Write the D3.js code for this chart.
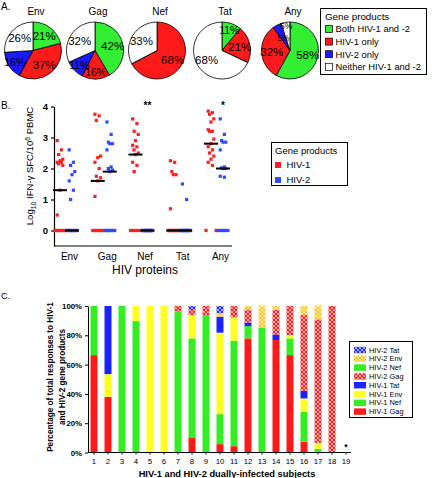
<!DOCTYPE html>
<html><head><meta charset="utf-8">
<script src="https://cdn.jsdelivr.net/npm/d3@7"></script>
<style>body{margin:0;background:#fff}svg{display:block;font-family:"Liberation Sans",Arial,sans-serif}svg text{font-family:"Liberation Sans",Arial,sans-serif}</style>
</head><body><svg id="c" width="432" height="478"></svg>
<script>
// ---------- Panel A data ----------
const pieProteins = ["Env","Gag","Nef","Tat","Any"];
const pieCategories = ["Both HIV-1 and -2","HIV-1 only","HIV-2 only","Neither HIV-1 and -2"];
const pieBoth     = [21,42,0,11,58];
const pieHiv1Only = [37,16,68,21,32];
const pieHiv2Only = [16,11,0,0,5];
const pieNeither  = [26,32,33,68,5];

// ---------- Panel B data ----------
const bGroups = ["Env","Gag","Nef","Tat","Any"];
const bSeries = ["HIV-1","HIV-2"];
const bTicks = [0,1,2,3,4];
const hiv1Env = [2.9,2.6,2.45,2.3,2.25,2.2,2.2,2.15,2.1,1.3,0.5,0,0,0,0,0,0,0,0];
const hiv2Env = [2.6,2.2,2.1,1.9,1.8,1.6,1.3,1.0,0,0,0,0,0,0,0,0,0,0,0];
const hiv1Gag = [3.75,3.7,3.55,2.4,2.35,2.2,2.0,1.75,1.7,1.6,1.1,0,0,0,0,0,0,0,0];
const hiv2Gag = [3.5,3.1,2.85,2.8,2.8,2.6,2.05,2.0,1.95,1.9,0,0,0,0,0,0,0,0,0];
const hiv1Nef = [3.6,3.45,3.2,3.1,2.9,2.75,2.7,2.6,2.5,2.45,2.2,2.1,1.9,0,0,0,0,0,0];
const hiv2Nef = [0,0,0,0,0,0,0,0,0,0,0,0,0,0,0,0,0,0,0];
const hiv1Tat = [2.25,2.2,1.9,1.8,1.8,0.7,0,0,0,0,0,0,0,0,0,0,0,0,0];
const hiv2Tat = [1.5,1.0,0,0,0,0,0,0,0,0,0,0,0,0,0,0,0,0,0];
const hiv1Any = [3.85,3.8,3.75,3.6,3.5,3.25,3.2,3.2,2.95,2.8,2.7,2.6,2.5,2.4,2.3,2.2,2.1,0,0];
const hiv2Any = [3.6,3.1,2.9,2.85,2.85,2.6,2.05,2.02,2.0,2.0,1.75,1.72,0,0,0,0,0,0,0];
const bStars = ["","","**","","*"];

// ---------- Panel C data ----------
const subjects = ["1","2","3","4","5","6","7","8","9","10","11","12","13","14","15","16","17","18","19"];
const cKeys = ["HIV-1 Gag","HIV-1 Nef","HIV-1 Env","HIV-1 Tat","HIV-2 Gag","HIV-2 Nef","HIV-2 Env","HIV-2 Tat"];
const cHiv1Gag = [66.5,38,0,0,0,0,0,10.3,0,5.7,4.3,77.9,0,76.8,66.5,7.3,0.5,0,0];
const cHiv1Nef = [33.5,0,100,89.7,0,0,96.1,67.6,93.8,20.5,72,8.4,85.4,0,11.4,20.5,2,0,0];
const cHiv1Env = [0,15.5,0,10.3,100,100,0,15.9,0,55.6,16,0,0,0,2.3,9.1,4.1,0,0];
const cHiv1Tat = [0,46.5,0,0,0,0,0,0,0,10.9,0,2.5,0,3.8,0,5.2,0,0,0];
const cHiv2Gag = [0,0,0,0,0,0,3.9,3.5,6.2,0,7.7,8.5,0,16.7,19.8,51.7,84.3,100,0];
const cHiv2Nef = [0,0,0,0,0,0,0,0,0,0,0,0,0,0,0,0,0,0,0];
const cHiv2Env = [0,0,0,0,0,0,0,0,0,2.3,0,2.7,14.6,2.7,0,6.2,9.1,0,0];
const cHiv2Tat = [0,0,0,0,0,0,0,2.7,0,5,0,0,0,0,0,0,0,0,0];
const cTicks = [0,20,40,60,80,100];
const cStarSubject = "19";

const FF = "Liberation Sans, Arial, sans-serif";
const svg = d3.select("#c");
const RED="#ff1a1a", GREEN="#33ee22", BLUE="#1a22ff", YELLOW="#ffff22", ORANGE="#ffc41a";

// patterns
const defs = svg.append("defs");
function hatch(id, color){
  const p = defs.append("pattern").attr("id",id).attr("patternUnits","userSpaceOnUse").attr("width",4).attr("height",4);
  p.append("rect").attr("width",4).attr("height",4).attr("fill",color);
  p.append("path").attr("d","M0,4 L4,0 M-1,1 L1,-1 M3,5 L5,3").attr("stroke","#fff").attr("stroke-width",0.8).attr("opacity",0.8);
  p.append("path").attr("d","M0,0 L4,4 M-1,3 L1,5 M3,-1 L5,1").attr("stroke","#fff").attr("stroke-width",0.8).attr("opacity",0.8);
}
hatch("hR",RED); hatch("hO",ORANGE); hatch("hB",BLUE);

// ================= Panel A =================
svg.append("text").attr("x",1).attr("y",10).attr("font-size",10).text("A.");
const pieColor = d3.scaleOrdinal().domain(pieCategories).range(["#33ee33","#ff1a1a","#1a1aff","#ffffff"]);
const pieX = d3.scaleOrdinal().domain(pieProteins).range([33,95,157,222,290]);
const R = 28.5, pieY = 50.5;
const pie = d3.pie().sort(null).value(d=>d.v);
const arc = d3.arc().innerRadius(0).outerRadius(R);
function labelR(d){ const v=d.data.v; if(v<8) return d.index===3 ? R*0.88 : R*0.5; return v<20 ? R*0.76 : R*0.64; }
function labelSize(v){ return v<8 ? 8.5 : (v<20 ? 10.5 : 11.5); }
pieProteins.forEach((p,i)=>{
  const vals = [pieBoth[i],pieHiv1Only[i],pieHiv2Only[i],pieNeither[i]].map((v,k)=>({c:pieCategories[k],v}));
  const g = svg.append("g").attr("transform",`translate(${pieX(p)},${pieY})`);
  const arcs = pie(vals);
  g.selectAll("path").data(arcs).join("path").attr("d",arc)
    .attr("fill",d=>pieColor(d.data.c)).attr("stroke","#000").attr("stroke-width",0.8);
  g.selectAll("text").data(arcs.filter(d=>d.data.v>0)).join("text")
    .attr("transform",d=>{
      const r = labelR(d);
      return `translate(${d3.arc().innerRadius(r).outerRadius(r).centroid(d)})`;})
    .attr("text-anchor","middle").attr("dy","0.36em").attr("font-size",d=>labelSize(d.data.v))
    .text(d=>d.data.v+"%");
  svg.append("text").attr("x",pieX(p)+3).attr("y",14.5).attr("text-anchor","middle").attr("font-size",10).text(p);
});
// legend A
const lgA = svg.append("g");
lgA.append("rect").attr("x",320.5).attr("y",8.5).attr("width",106).attr("height",66).attr("fill","#fff").attr("stroke","#000");
lgA.append("text").attr("x",325).attr("y",20).attr("font-size",9.8).text("Gene products");
pieCategories.forEach((c,k)=>{
  const yy = 29 + k*12.6;
  lgA.append("rect").attr("x",325.5).attr("y",yy-3.5).attr("width",7).attr("height",7).attr("fill",pieColor(c)).attr("stroke","#000").attr("stroke-width",0.7);
  lgA.append("text").attr("x",335.5).attr("y",yy+3.3).attr("font-size",9.4).text(c);
});

// ================= Panel B =================
svg.append("text").attr("x",1).attr("y",109).attr("font-size",10).text("B.");
const yB = d3.scaleLinear().domain([-0.5,4]).range([246,106.5]);
const xB = d3.scalePoint().domain(bGroups).range([66,217]);
const sOff = d3.scaleOrdinal().domain(bSeries).range([-6,6]);
const sCol = d3.scaleOrdinal().domain(bSeries).range(["#ff1f1f","#2f4dff"]);
const bData = {
  "Env":[hiv1Env,hiv2Env],"Gag":[hiv1Gag,hiv2Gag],"Nef":[hiv1Nef,hiv2Nef],"Tat":[hiv1Tat,hiv2Tat],"Any":[hiv1Any,hiv2Any]
};
const gB = svg.append("g");
gB.append("g").attr("transform","translate(54,0)")
  .call(d3.axisLeft(yB).tickValues(bTicks).tickSize(3).tickSizeOuter(0).tickFormat(d3.format("d")))
  .call(g=>{g.selectAll("text").attr("font-size",9.5).attr("font-weight","bold").attr("fill","#000").attr("font-family",FF);
            g.selectAll("line,path").attr("stroke","#000").attr("stroke-width",1.2);});
gB.append("line").attr("x1",54).attr("x2",232).attr("y1",yB(-0.5)).attr("y2",yB(-0.5)).attr("stroke","#000").attr("stroke-width",1.2);
gB.append("g").attr("transform",`translate(3,${yB(-0.5)})`)
  .call(d3.axisBottom(xB).tickSize(0).tickPadding(7))
  .call(g=>{g.select(".domain").remove(); g.selectAll("text").attr("font-size",10).attr("fill","#000").attr("font-family",FF);});
bGroups.forEach(gname=>{
  bSeries.forEach((s,si)=>{
    const vals = bData[gname][si];
    const cx = xB(gname)+sOff(s);
    const nz = vals.filter(v=>v>0), zs = vals.filter(v=>v===0);
    const pts = nz.map((v,i)=>({v,dx:((i*3)%5-2)*1.4})).concat(zs.map((v,i)=>({v,dx: zs.length>1? -5+10*i/(zs.length-1):0})));
    gB.selectAll(null).data(pts).join("rect")
      .attr("x",d=>cx+d.dx-1.6).attr("y",d=>yB(d.v)-1.6).attr("width",3.2).attr("height",3.2).attr("fill",sCol(s));
    const med = d3.median(vals);
    gB.append("line").attr("x1",cx-7).attr("x2",cx+7).attr("y1",yB(med)).attr("y2",yB(med)).attr("stroke","#000").attr("stroke-width",2);
  });
});
bGroups.forEach((gname,i)=>{
  if(bStars[i]) gB.append("text").attr("x",xB(gname)+sOff("HIV-2")).attr("y",yB(3.92)).attr("text-anchor","middle").attr("font-size",10).attr("font-weight","bold").text(bStars[i]);
});
// y label
const yl = gB.append("text").attr("transform","translate(33,166) rotate(-90)").attr("text-anchor","middle").attr("font-size",9.5);
yl.append("tspan").text("Log");
yl.append("tspan").attr("font-size",7).attr("dy",2.5).text("10");
yl.append("tspan").attr("dy",-2.5).text(" IFN-\u03b3 SFC/10");
yl.append("tspan").attr("font-size",7).attr("dy",-3.5).text("6");
yl.append("tspan").attr("dy",3.5).text(" PBMC");
gB.append("text").attr("x",145).attr("y",274).attr("text-anchor","middle").attr("font-size",12).text("HIV proteins");
// legend B
const lgB = svg.append("g");
lgB.append("rect").attr("x",271.5).attr("y",142.5).attr("width",76).attr("height",43).attr("fill","#fff").attr("stroke","#000");
lgB.append("text").attr("x",275).attr("y",154).attr("font-size",9.5).text("Gene products");
bSeries.forEach((s,k)=>{
  const yy = 165 + k*15;
  lgB.append("rect").attr("x",275).attr("y",yy-3).attr("width",6).attr("height",6).attr("fill",sCol(s));
  lgB.append("text").attr("x",286.5).attr("y",yy+3.3).attr("font-size",9.5).text(s);
});

// ================= Panel C =================
svg.append("text").attr("x",1).attr("y",299).attr("font-size",9).text("C.");
const xC = d3.scaleBand().domain(subjects).range([87,353]).paddingInner(0.5).paddingOuter(0.25);
const yC = d3.scaleLinear().domain([0,100]).range([452.5,306]);
const cFill = d3.scaleOrdinal().domain(cKeys).range([RED,GREEN,YELLOW,BLUE,"url(#hR)",GREEN,"url(#hO)","url(#hB)"]);
const cArrays = [cHiv1Gag,cHiv1Nef,cHiv1Env,cHiv1Tat,cHiv2Gag,cHiv2Nef,cHiv2Env,cHiv2Tat];
const table = subjects.map((s,i)=>{const o={subject:s}; cKeys.forEach((k,j)=>o[k]=cArrays[j][i]); return o;});
const stack = d3.stack().keys(cKeys)(table);
const gC = svg.append("g");
gC.selectAll("g.layer").data(stack).join("g").attr("class","layer").attr("fill",d=>cFill(d.key))
  .selectAll("rect").data(d=>d.filter(e=>e[1]-e[0]>0)).join("rect")
  .attr("x",d=>xC(d.data.subject)).attr("width",xC.bandwidth())
  .attr("y",d=>yC(d[1])).attr("height",d=>yC(d[0])-yC(d[1]));
gC.append("g").attr("transform","translate(88,0)")
  .call(d3.axisLeft(yC).tickValues(cTicks).tickSize(3).tickSizeOuter(0).tickFormat(d=>d+"%"))
  .call(g=>{g.selectAll("text").attr("font-size",7.8).attr("font-weight","bold").attr("fill","#000").attr("font-family",FF);
            g.selectAll("line,path").attr("stroke","#000").attr("stroke-width",1);});
gC.append("line").attr("x1",88).attr("x2",351).attr("y1",yC(0)).attr("y2",yC(0)).attr("stroke","#000").attr("stroke-width",1.2);
gC.append("g").attr("transform",`translate(0,${yC(0)})`)
  .call(d3.axisBottom(xC).tickSize(2).tickPadding(4))
  .call(g=>{g.select(".domain").remove(); g.selectAll("line").attr("stroke","#000");
            g.selectAll("text").attr("font-size",7.8).attr("fill","#000").attr("font-family",FF);});
gC.append("text").attr("x",xC(cStarSubject)+xC.bandwidth()/2).attr("y",yC(2)).attr("text-anchor","middle").attr("font-size",9).attr("font-weight","bold").text("*");
gC.append("text").attr("x",227).attr("y",477).attr("text-anchor","middle").attr("font-size",9.3).attr("font-weight","bold").text("HIV-1 and HIV-2 dually-infected subjects");
const ct = gC.append("text").attr("transform","translate(0,377) rotate(-90)").attr("text-anchor","middle").attr("font-size",8.2).attr("font-weight","bold");
ct.append("tspan").attr("x",0).attr("y",53).text("Percentage of total responses to HIV-1");
ct.append("tspan").attr("x",0).attr("y",64.5).text("and HIV-2 gene products");
// legend C
const lgC = svg.append("g");
lgC.append("rect").attr("x",349.5).attr("y",341.5).attr("width",63).attr("height",76).attr("fill","#fff").attr("stroke","#000");
cKeys.slice().reverse().forEach((k,i)=>{
  const yy = 350 + i*8.8;
  lgC.append("rect").attr("x",354).attr("y",yy-3.2).attr("width",12).attr("height",6.4).attr("fill",cFill(k));
  lgC.append("text").attr("x",369).attr("y",yy+2.6).attr("font-size",7.4).text(k);
});
</script></body></html>
